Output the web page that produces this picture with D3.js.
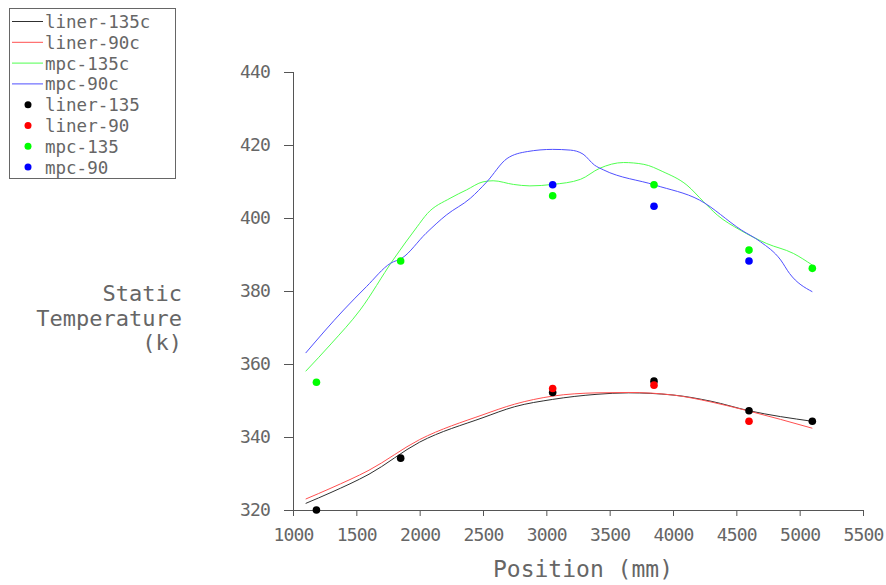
<!DOCTYPE html>
<html>
<head>
<meta charset="utf-8">
<script src="https://cdn.jsdelivr.net/npm/d3@7"></script>
<style>
  html, body { margin: 0; padding: 0; background: #fff; }
  svg { display: block; }
  text { font-family: "DejaVu Sans Mono", "Liberation Mono", monospace; fill: #666; }
</style>
</head>
<body>
<svg id="chart" width="886" height="585"></svg>
<script>
// ---- data ----
const xTicks = [1000, 1500, 2000, 2500, 3000, 3500, 4000, 4500, 5000, 5500];
const yTicks = [320, 340, 360, 380, 400, 420, 440];

// curves (computed)
const liner135cPos = [1100, 1300, 1600, 2000, 2500, 2750, 3050, 3400, 3650, 4000, 4300, 4600, 5100];
const liner135cVal = [321.8, 324.8, 329.8, 338.6, 345.3, 348.3, 350.3, 351.7, 352.1, 351.5, 349.8, 347.2, 344.3];

const liner90cPos = [1100, 1300, 1600, 2000, 2500, 2750, 3050, 3400, 3650, 4000, 4300, 4600, 5100];
const liner90cVal = [323.0, 326.0, 330.9, 339.3, 346.1, 349.0, 351.2, 352.1, 352.2, 351.5, 349.6, 347.1, 342.4];

const mpc135cPos = [1100, 1300, 1530, 1790, 1980, 2060, 2240, 2370, 2500, 2580, 2740, 2870, 3050, 3270, 3420, 3610, 3770, 3920, 4110, 4240, 4350, 4530, 4740, 4950, 5100];
const mpc135cVal = [358.0, 365.5, 374.8, 388.5, 397.6, 401.2, 405.4, 407.7, 409.9, 410.2, 409.2, 408.8, 409.2, 410.6, 413.6, 415.2, 414.7, 412.7, 409.0, 404.5, 400.8, 396.7, 393.0, 390.3, 387.1];

const mpc90cPos = [1100, 1400, 1580, 1770, 1860, 2050, 2210, 2400, 2530, 2690, 2850, 3050, 3190, 3290, 3380, 3450, 3860, 4210, 4540, 4690, 4850, 4920, 5100];
const mpc90cVal = [363.0, 374.8, 381.2, 387.6, 389.0, 395.8, 400.8, 405.4, 409.9, 416.3, 418.2, 418.8, 418.6, 417.5, 414.5, 413.2, 409.0, 404.9, 396.7, 393.5, 388.5, 384.8, 379.8];

// measured points
const liner135Pos = [1185, 1850, 3050, 3850, 4600, 5100];
const liner135Val = [320.0, 334.2, 352.2, 355.3, 347.2, 344.3];

const liner90Pos = [3050, 3850, 4600];
const liner90Val = [353.3, 354.2, 344.3];

const mpc135Pos = [1185, 1850, 3050, 3850, 4600, 5100];
const mpc135Val = [355.0, 388.2, 406.1, 409.1, 391.2, 386.2];

const mpc90Pos = [3050, 3850, 4600];
const mpc90Val = [409.1, 403.2, 388.2];

const lineSeries = [
  { name: "liner-135c", pos: liner135cPos, val: liner135cVal, color: "#303030" },
  { name: "liner-90c",  pos: liner90cPos,  val: liner90cVal,  color: "#ff5050" },
  { name: "mpc-135c",   pos: mpc135cPos,   val: mpc135cVal,   color: "#50ff50" },
  { name: "mpc-90c",    pos: mpc90cPos,    val: mpc90cVal,    color: "#5050ff" }
];
const dotSeries = [
  { name: "liner-135", pos: liner135Pos, val: liner135Val, color: "#000000" },
  { name: "liner-90",  pos: liner90Pos,  val: liner90Val,  color: "#ff0000" },
  { name: "mpc-135",   pos: mpc135Pos,   val: mpc135Val,   color: "#00ff00" },
  { name: "mpc-90",    pos: mpc90Pos,    val: mpc90Val,    color: "#0000ff" }
];

// ---- layout ----
const svg = d3.select("#chart");
const x = d3.scaleLinear().domain([1000, 5500]).range([293, 863]);
const y = d3.scaleLinear().domain([320, 440]).range([510, 72]);
const axisColor = "#555";

// x axis minor
const gx = svg.append("g").attr("transform", `translate(0,${y(320)})`);
gx.call(d3.axisBottom(x).tickValues(d3.range(1250, 5500, 500)).tickSize(3).tickFormat(""))
  .call(g => g.select(".domain").remove());
gx.call(d3.axisBottom(x).tickValues(xTicks).tickSize(6).tickSizeOuter(0).tickFormat(d3.format("d")).tickPadding(12));
gx.selectAll("line").attr("stroke", axisColor);
gx.select(".domain").attr("stroke", axisColor).attr("d", `M${x(1000)},0.5H${x(5500)}`);
gx.selectAll("text").attr("font-size", "18px").attr("letter-spacing", "-0.8px")
  .attr("font-family", null).attr("fill", "#666").attr("dy", "0.71em");

// y axis
const gy = svg.append("g").attr("transform", `translate(${x(1000)},0)`);
gy.call(d3.axisLeft(y).tickValues(d3.range(330, 440, 20)).tickSize(5).tickFormat(""))
  .call(g => g.select(".domain").remove());
gy.call(d3.axisLeft(y).tickValues(yTicks).tickSize(9).tickSizeOuter(0).tickFormat(d3.format("d")).tickPadding(14));
gy.selectAll("line").attr("stroke", axisColor);
gy.select(".domain").attr("stroke", axisColor).attr("d", `M0.5,${y(440)}V${y(320)}`);
gy.selectAll("text").attr("font-size", "18px").attr("letter-spacing", "-0.8px")
  .attr("font-family", null).attr("fill", "#666");

// curves
const line = d3.line().curve(d3.curveMonotoneX);
lineSeries.forEach(s => {
  svg.append("path")
    .attr("d", line(s.pos.map((p, i) => [x(p), y(s.val[i])])))
    .attr("fill", "none")
    .attr("stroke", s.color)
    .attr("stroke-width", 1);
});

// dots
dotSeries.forEach(s => {
  svg.append("g").selectAll("circle")
    .data(s.pos.map((p, i) => [p, s.val[i]]))
    .join("circle")
    .attr("cx", d => x(d[0]))
    .attr("cy", d => y(d[1]))
    .attr("r", 3.8)
    .attr("fill", s.color);
});

// axis titles
svg.append("text")
  .attr("x", (x(1000) + x(5500)) / 2 + 5)
  .attr("y", 577)
  .attr("text-anchor", "middle")
  .attr("font-size", "23px")
  .text("Position (mm)");

const yTitle = ["Static", "Temperature", "(k)"];
svg.append("g").selectAll("text")
  .data(yTitle)
  .join("text")
  .attr("x", 182)
  .attr("y", (d, i) => 301 + i * 24.5)
  .attr("text-anchor", "end")
  .attr("font-size", "22px")
  .text(d => d);

// legend
const legend = svg.append("g");
legend.append("rect")
  .attr("x", 9.5).attr("y", 8.5).attr("width", 166).attr("height", 170)
  .attr("fill", "#fff").attr("stroke", "#666");
const legendItems = lineSeries.map(s => ({ ...s, kind: "line" }))
  .concat(dotSeries.map(s => ({ ...s, kind: "dot" })));
legendItems.forEach((s, i) => {
  const cy = 21.5 + i * 20.8;
  if (s.kind === "line") {
    legend.append("line")
      .attr("x1", 12).attr("x2", 43).attr("y1", cy).attr("y2", cy)
      .attr("stroke", s.color).attr("stroke-width", 1);
  } else {
    legend.append("circle")
      .attr("cx", 28).attr("cy", cy).attr("r", 3.5).attr("fill", s.color);
  }
  legend.append("text")
    .attr("x", 45).attr("y", cy + 6.5)
    .attr("font-size", "17.5px")
    .text(s.name);
});
</script>
</body>
</html>
